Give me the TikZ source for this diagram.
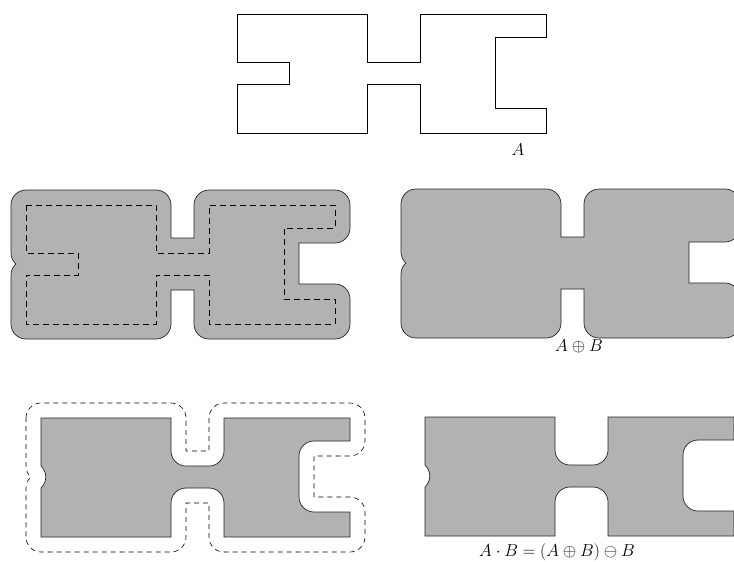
\documentclass[tikz,border=0pt]{standalone}
\newcommand\myApath{(0,0) -- (130,0) -- (130,48) -- (183,48) -- (183,0) -- (309,0) -- (309,23) -- (258,23) -- (258,94) -- (309,94) -- (309,119) -- (183,119) -- (183,70) -- (130,70) -- (130,119) -- (0,119) -- (0,70) -- (52,70) -- (52,48) -- (0,48) -- cycle}
\newcommand\myDpath{(-15,0) arc[start angle=180,end angle=270,radius=15] -- (130,-15) arc[start angle=270,end angle=360,radius=15] -- (145,33) -- (168,33) -- (168,0) arc[start angle=180,end angle=270,radius=15] -- (309,-15) arc[start angle=270,end angle=360,radius=15] -- (324,23) arc[start angle=0,end angle=90,radius=15] -- (273,38) -- (273,79) -- (309,79) arc[start angle=270,end angle=360,radius=15] -- (324,119) arc[start angle=0,end angle=90,radius=15] -- (183,134) arc[start angle=90,end angle=180,radius=15] -- (168,85) -- (145,85) -- (145,119) arc[start angle=0,end angle=90,radius=15] -- (0,134) arc[start angle=90,end angle=180,radius=15] -- (-15,70) arc[start angle=180,end angle=227.2,radius=15] arc[start angle=132.8,end angle=180,radius=15] -- cycle}
\newcommand\myCpath{(0,0) -- (130,0) -- (130,33) arc[start angle=180,end angle=90,radius=15] -- (168,48) arc[start angle=90,end angle=0,radius=15] -- (183,0) -- (309,0) -- (309,23) -- (273,23) arc[start angle=270,end angle=180,radius=15] -- (258,79) arc[start angle=180,end angle=90,radius=15] -- (309,94) -- (309,119) -- (183,119) -- (183,85) arc[start angle=0,end angle=-90,radius=15] -- (145,70) arc[start angle=270,end angle=180,radius=15] -- (130,119) -- (0,119) -- (0,70) arc[start angle=47.2,end angle=-47.2,radius=15] -- cycle}
\tikzset{
  Aline/.style={draw=black, line width=0.6pt},
  grayfill/.style={fill=black!30, draw=black!85, line width=0.7pt},
  innerdash/.style={draw=black, line width=0.9pt, dash pattern=on 6pt off 4pt},
  outerdash/.style={draw=black, line width=0.6pt, dash pattern=on 5pt off 4pt},
  lbl/.style={font=\fontsize{17}{20}\selectfont, inner sep=0pt}
}
\begin{document}
\begin{tikzpicture}[x=1pt,y=-1pt]
\useasboundingbox (0,0) rectangle (734,562);
\clip (0,0) rectangle (734,562);
% top: A
\begin{scope}[shift={(237,14)}]
  \draw[Aline] \myApath;
\end{scope}
\node[lbl] (lblA) at (518,150) {$A$};
% middle left: dilation with A dashed
\begin{scope}[shift={(26,205)}]
  \draw[grayfill] \myDpath;
  \draw[innerdash] \myApath;
\end{scope}
% middle right: dilation
\begin{scope}[shift={(416,204)}]
  \draw[grayfill] \myDpath;
\end{scope}
\node[lbl] (lblD) at (579,346) {$A\oplus B$};
% bottom left: closing with dilation outline dashed
\begin{scope}[shift={(41,418)}]
  \draw[outerdash] \myDpath;
  \draw[grayfill] \myCpath;
\end{scope}
% bottom right: closing
\begin{scope}[shift={(425,417)}]
  \draw[grayfill] \myCpath;
\end{scope}
\node[lbl] (lblC) at (557,552) {$A\cdot B=(A\oplus B)\ominus B$};
\end{tikzpicture}
\end{document}
